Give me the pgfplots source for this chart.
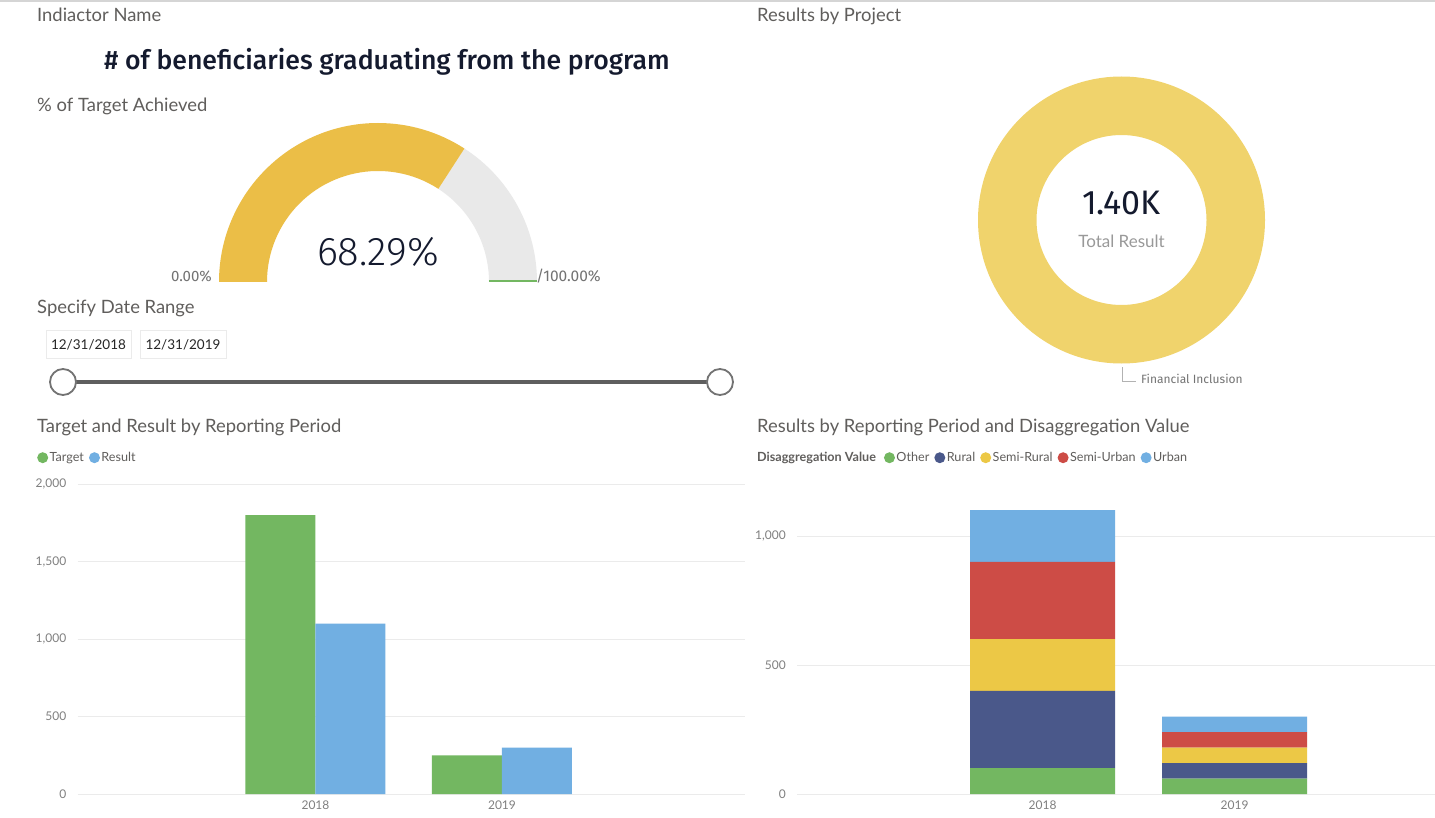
\documentclass[border=0pt]{standalone}
\usepackage{fontspec}
\setmainfont{Lato}
\newfontfamily\din{Fira Sans}
\newfontfamily\dinlight{Fira Sans Light}
\newfontfamily\dinmed{Fira Sans Medium}
\usepackage{pgfplots}
\pgfplotsset{compat=1.18}
\definecolor{cgreen}{HTML}{73B761}
\definecolor{cblue}{HTML}{71AFE2}
\definecolor{cnavy}{HTML}{4A588A}
\definecolor{cyellow}{HTML}{ECC846}
\definecolor{cred}{HTML}{CD4C46}
\definecolor{gyellow}{HTML}{EBBE47}
\definecolor{ggrey}{HTML}{E9E9E9}
\definecolor{dyellow}{HTML}{F0D36C}
\definecolor{labc}{HTML}{605E5C}
\definecolor{tickc}{HTML}{808080}
\definecolor{gridc}{HTML}{EBEBEB}
\definecolor{darkc}{HTML}{141A2E}
\definecolor{slidec}{HTML}{5F5F5F}
\newcommand\lab{\fontsize{18.4}{21}\selectfont}
\newcommand\smalltxt{\fontsize{12}{14}\selectfont}
\newcommand\legtxt{\fontsize{12.6}{14}\selectfont}
\newcommand\legdot[1]{\tikz[baseline=-0.6ex]\fill[#1] (0,0) circle (5.5pt);}
\pgfplotsset{
  dash/.style={
    scale only axis, anchor=south west,
    axis line style={draw=none}, tick style={draw=none}, major tick length=0pt,
    ymajorgrids, grid style={gridc, line width=1pt},
    tick label style={font=\smalltxt, text=tickc, inner sep=0pt},
    yticklabel style={anchor=east, xshift=-11pt},
    xticklabel style={anchor=north, yshift=-7pt},
    /pgf/number format/1000 sep={,},
    /pgf/number format/assume math mode=true,
    ymin=0, xtick={0,1}, xticklabels={2018,2019},
  }
}
\begin{document}
\begin{tikzpicture}
\useasboundingbox (0pt,0pt) rectangle (1435pt,-818pt);
\fill[white] (0pt,0pt) rectangle (1435pt,-818pt);
\begin{scope}[x=1pt,y=-1pt]
\draw[gridc!80!gray, line width=1.5pt] (0,1) -- (1435,1);
\tikzset{t/.style={anchor=base west, inner sep=0pt, text=labc, font=\lab}}
\node[t] at (37,21.5) {Indiactor Name};
\node[t] at (37,112) {\% of Target Achieved};
\node[t] at (37,314) {Specify Date Range};
\node[t] at (37,432) {Target and Result by Reporting Period};
\node[t] at (757,21.5) {Results by Project};
\node[t] at (757,432) {Results by Reporting Period and Disaggregation Value};
\node[inner sep=0pt, text=darkc, font=\dinmed\fontsize{26.6}{30}\selectfont] at (387,62) {\# of beneficiaries graduating from the program};
% date range
\draw[gridc, line width=1pt] (46,331) rectangle (131,358);
\draw[gridc, line width=1pt] (140,331) rectangle (226,358);
\node[inner sep=0pt, font=\fontsize{13.5}{15}\selectfont, text=black!85] at (88.5,345) {12/31/2018};
\node[inner sep=0pt, font=\fontsize{13.5}{15}\selectfont, text=black!85] at (183,345) {12/31/2019};
\draw[slidec, line width=4pt] (63,382) -- (720,382);
\draw[black!55, line width=1.8pt, fill=white] (63,382) circle (13);
\draw[black!55, line width=1.8pt, fill=white] (720,382) circle (13);
% legends
\node[anchor=west, inner sep=0pt, font=\legtxt, text=labc] at (37,458)
  {\legdot{cgreen}\kern1.5pt Target\kern5pt\legdot{cblue}\kern1.5pt Result};
\node[anchor=west, inner sep=0pt, font=\legtxt, text=labc] at (757,458)
  {\textbf{Disaggregation Value}\kern8pt\legdot{cgreen}\kern1.5pt Other\kern5pt\legdot{cnavy}\kern1.5pt Rural\kern5pt\legdot{cyellow}\kern1.5pt Semi-Rural\kern5pt\legdot{cred}\kern1.5pt Semi-Urban\kern5pt\legdot{cblue}\kern1.5pt Urban};
% donut leader
\draw[black!30, line width=1pt] (1122,367) -- (1122,381) -- (1136,381);
\node[anchor=west, inner sep=0pt, font=\din\fontsize{12}{14}\selectfont, text=black!55] at (1141,379) {Financial Inclusion};
\end{scope}

% gauge
\def\achieved{68.29}
\begin{axis}[at={(218pt,-282pt)}, anchor=south west, scale only axis, width=320pt, height=160pt,
  xmin=-160, xmax=160, ymin=0, ymax=160, hide axis, clip=false]
\pgfmathsetmacro{\ga}{180-1.8*\achieved}
\fill[ggrey] (axis cs:159,0) arc[start angle=0,end angle=\ga,radius=159pt]
  -- (axis cs:{111*cos(\ga)},{111*sin(\ga)}) arc[start angle=\ga,end angle=0,radius=111pt] -- cycle;
\fill[gyellow] (axis cs:-159,0) arc[start angle=180,end angle=\ga,radius=159pt]
  -- (axis cs:{111*cos(\ga)},{111*sin(\ga)}) arc[start angle=\ga,end angle=180,radius=111pt] -- cycle;
\draw[cgreen, line width=2pt] (axis cs:111,0.5) -- (axis cs:159,0.5);
\node[anchor=east, inner sep=0pt, font=\din\fontsize{15}{17}\selectfont, text=black!55] at (axis cs:-166,6) {0.00\%};
\node[anchor=west, inner sep=0pt, font=\din\fontsize{15.5}{17}\selectfont, text=black!55] at (axis cs:158,6) {/100.00\%};
\node[inner sep=0pt, font=\dinlight\fontsize{40}{44}\selectfont, text=darkc] at (axis cs:0,30) {\achieved\%};
\end{axis}

% donut
\begin{axis}[at={(977.5pt,-364pt)}, anchor=south west, scale only axis, width=288pt, height=288pt,
  xmin=-144, xmax=144, ymin=-144, ymax=144, hide axis, clip=false]
\fill[dyellow, even odd rule] (axis cs:0,0) circle[radius=143.5pt] (axis cs:0,0) circle[radius=85pt];
\node[inner sep=0pt, font=\din\fontsize{34}{38}\selectfont, text=darkc] at (axis cs:0,17.5) {1.40K};
\node[inner sep=0pt, font=\fontsize{17}{20}\selectfont, text=black!40] at (axis cs:0,-21.5) {Total Result};
\end{axis}

% target and result
\begin{axis}[dash, at={(77.5pt,-794pt)}, width=667.5pt, height=310pt,
  xmin=-1.276, xmax=2.303, ymax=2000, ytick={0,500,1000,1500,2000},
  ybar=0pt, bar width=70pt]
\addplot[fill=cgreen, draw=none] coordinates {(0,1800) (1,250)};
\addplot[fill=cblue, draw=none] coordinates {(0,1100) (1,300)};
\end{axis}

% disaggregation
\begin{axis}[dash, at={(797pt,-794pt)}, width=638pt, height=309.6pt,
  xmin=-1.279, xmax=2.044, ymax=1200, ytick={0,500,1000},
  ybar stacked, bar width=145pt]
\addplot[fill=cgreen, draw=none] coordinates {(0,100) (1,60)};
\addplot[fill=cnavy, draw=none] coordinates {(0,300) (1,60)};
\addplot[fill=cyellow, draw=none] coordinates {(0,200) (1,60)};
\addplot[fill=cred, draw=none] coordinates {(0,300) (1,60)};
\addplot[fill=cblue, draw=none] coordinates {(0,200) (1,60)};
\end{axis}
\end{tikzpicture}
\end{document}
